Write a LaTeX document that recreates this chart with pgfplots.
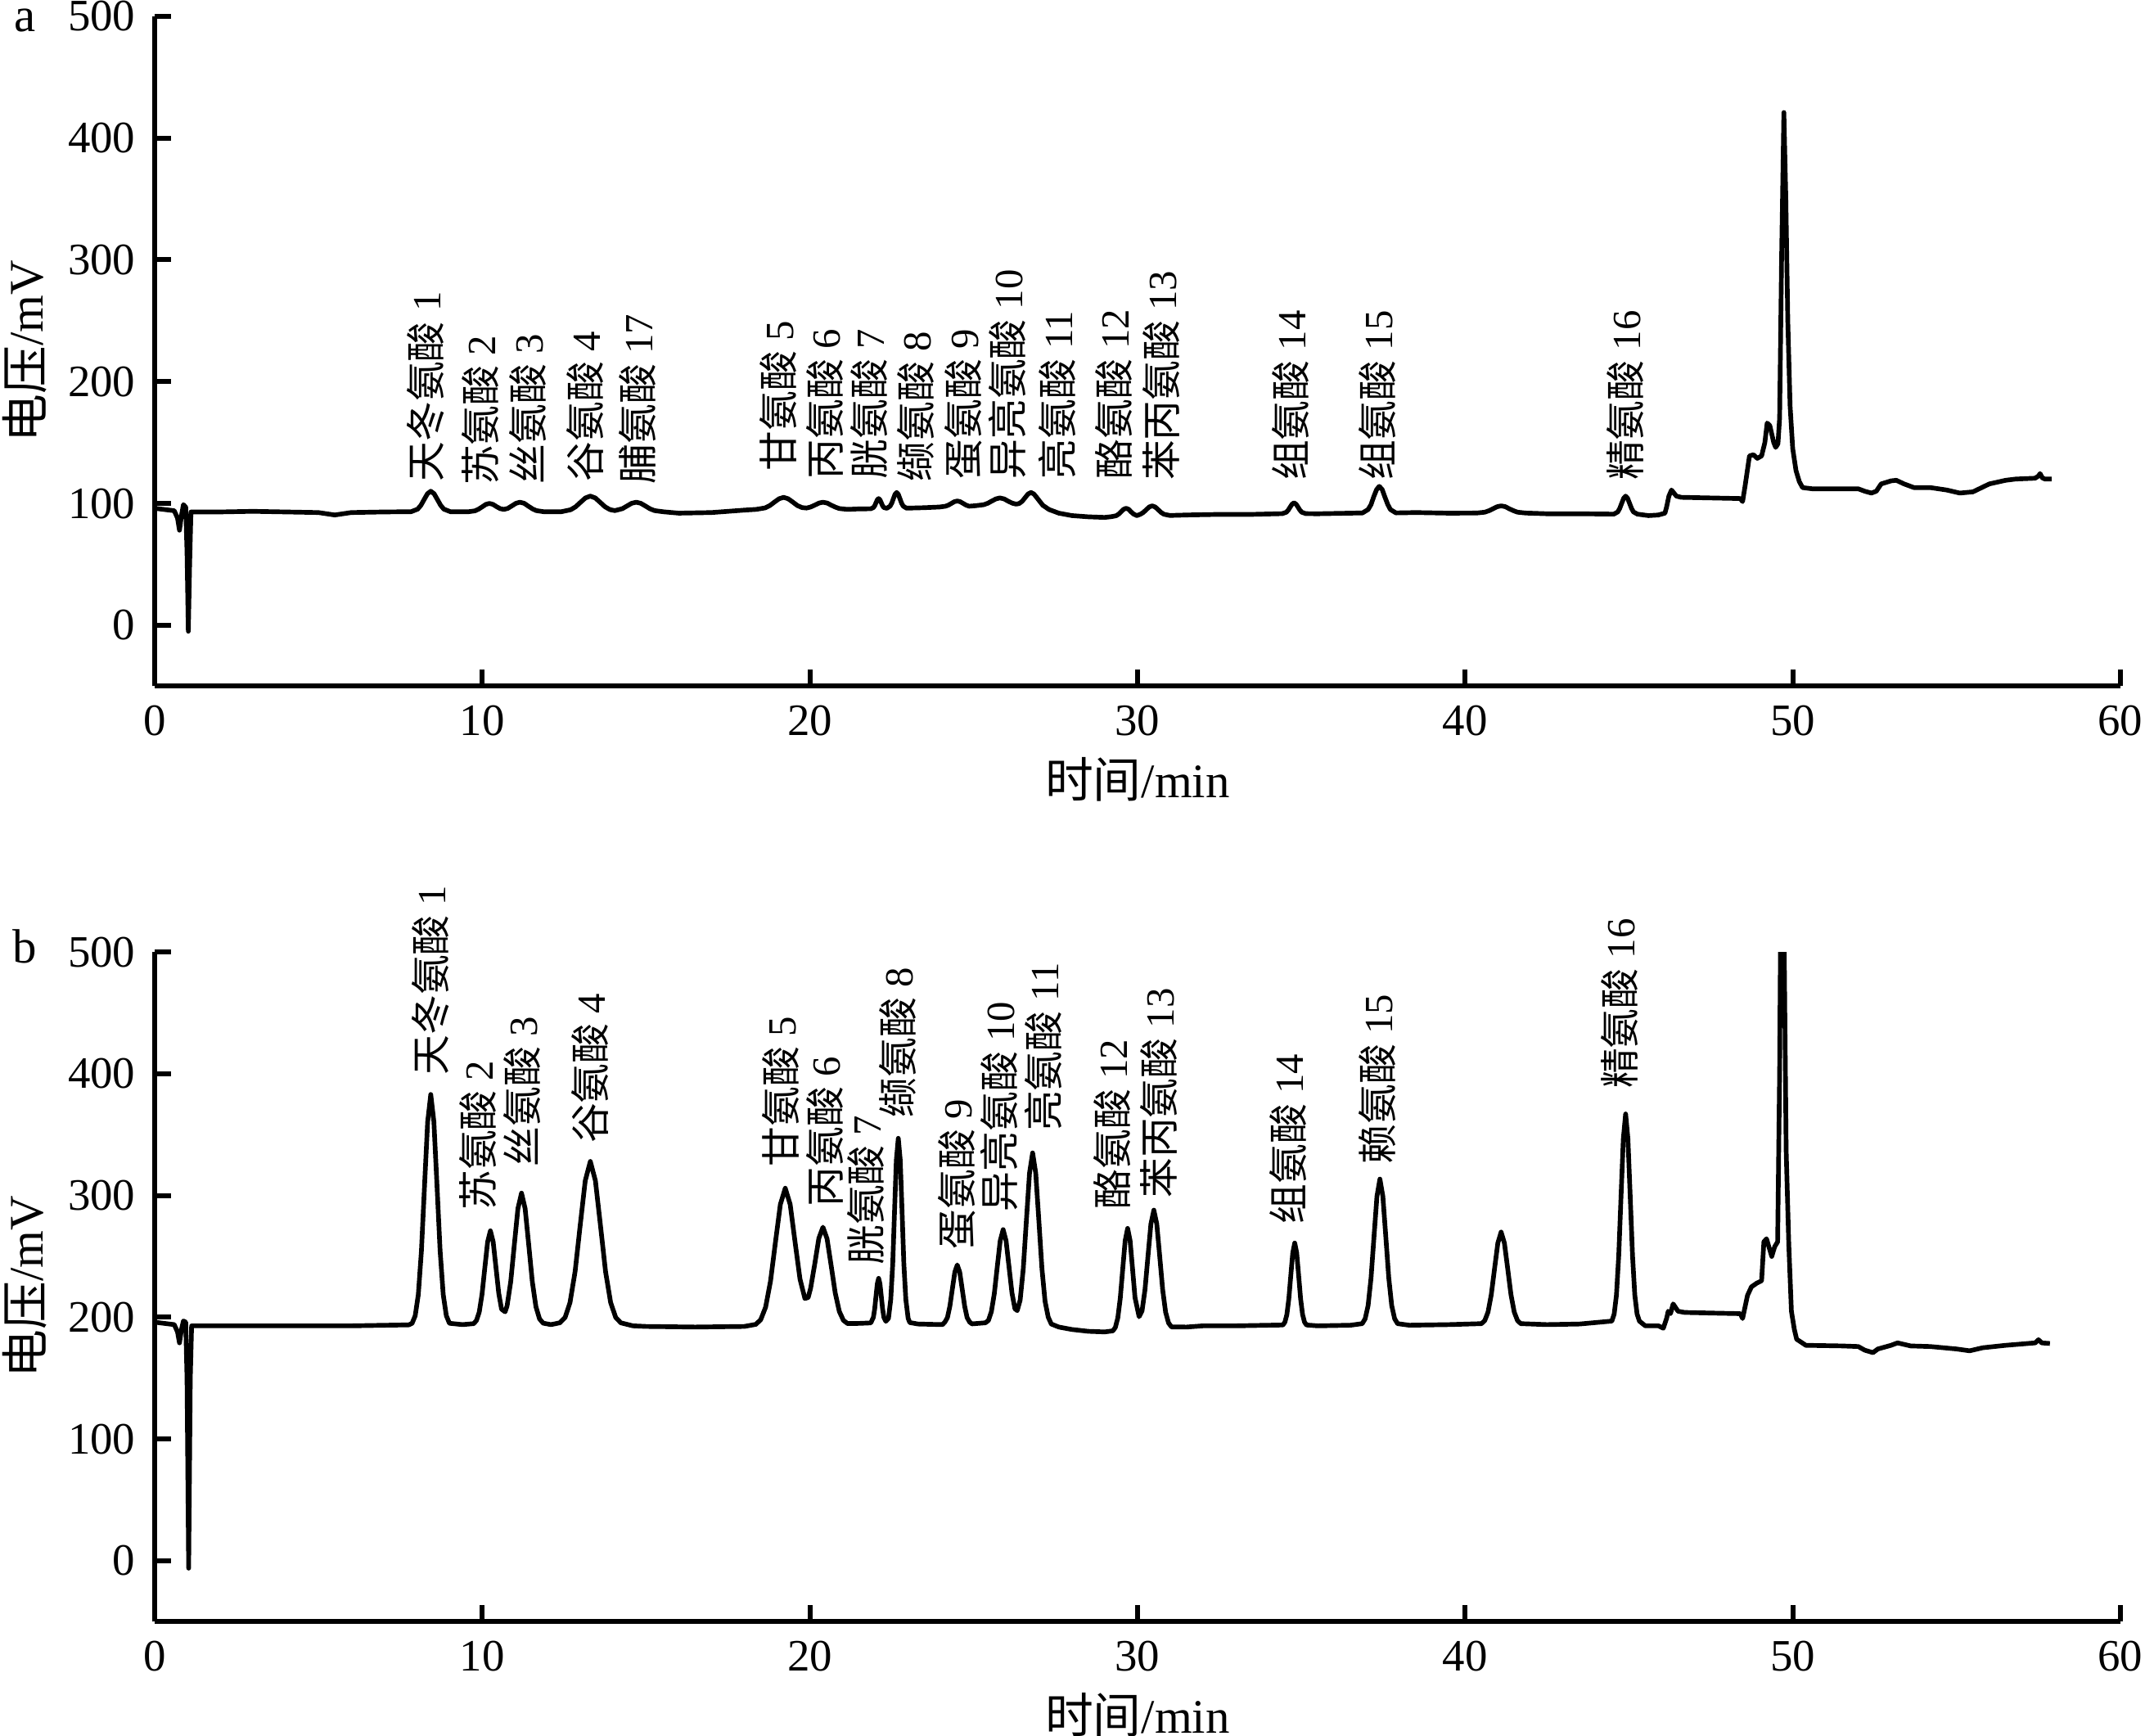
\documentclass[border=0pt]{standalone}
\usepackage{fontspec}
\setmainfont{Liberation Serif}
\newfontfamily\cjk{Noto Sans CJK SC}
\usepackage{pgfplots}
\pgfplotsset{compat=1.18}
\begin{document}
\begin{tikzpicture}[lab/.style={rotate=90,anchor=west,inner sep=0pt,font=\fontsize{7.3}{8}\selectfont\rmfamily}]
\pgfplotsset{chrom/.style={
 width=359.25pt, height=122.4pt, scale only axis,
 xmin=0,xmax=60,ymin=-50,ymax=500,
 axis x line*=bottom, axis y line*=left,
 axis line style={line width=0.9pt,-},
 tick style={line width=0.9pt,black},
 major tick length=3pt, tick align=inside,
 xtick={0,10,...,60}, ytick={0,100,...,500},
 minor tick num=0,
 /pgf/number format/assume math mode=true,
 tick label style={font=\fontsize{8.2}{9}\selectfont},
 label style={font=\fontsize{8.8}{10}\selectfont},
 xlabel={{\cjk 时间}/min}, ylabel={{\cjk 电压}/mV},
 x label style={at={([yshift=-17.1pt]axis description cs:0.5,0)},anchor=center},
 y label style={at={([xshift=-23.75pt]axis description cs:0,0.5)},anchor=center},
 clip mode=individual,
 anchor=south west,
}}
\begin{axis}[chrom, at={(28.25pt,-125.375pt)}]
\addplot[black, line width=0.85pt, line join=round] coordinates {
(0,96) (0.3,95) (0.6,94) (0.7,88) (0.76,78) (0.82,90) (0.88,99) (0.95,97) (0.99,60) (1.03,-5) (1.07,50) (1.11,93) (2,93) (3,93.5) (4,93) (5,92.5) (5.5,90.5) (6,92.5) (7,93)
(7.83,93.2) (8.03,95.3) (8.13,98.5) (8.23,103.3) (8.33,108) (8.43,110) (8.53,108) (8.63,103.3) (8.73,98.5) (8.83,95.3) (9.03,93.2)
(9.56,93.1) (9.78,93.9) (9.89,95.3) (10.0,97.2) (10.11,99.2) (10.22,100) (10.33,99.2) (10.44,97.3) (10.55,95.7) (10.66,95.1) (10.78,95.9) (10.9,97.9) (11.03,100.1) (11.15,101) (11.28,100.1) (11.4,97.9) (11.53,95.6) (11.65,94.1) (11.9,93.1)
(12.4,93.1) (12.7,94.8) (12.85,97.2) (13.0,100.9) (13.15,104.5) (13.3,106) (13.45,104.5) (13.6,100.9) (13.75,97.2) (13.9,94.9) (14.05,94.1) (14.28,95.7) (14.42,97.9) (14.56,100.1) (14.7,101) (14.84,100.1) (14.98,97.9) (15.12,95.6) (15.26,94.1) (15.54,93.1)
(16,92) (17,92.5) (18,94.5)
(18.36,95.1) (18.64,96.35) (18.78,98.25) (18.92,101.1) (19.06,103.8) (19.2,105) (19.34,103.8) (19.48,101.1) (19.62,98.25) (19.76,96.6) (19.9,96.2) (20.03,97.1) (20.15,98.6) (20.28,100.3) (20.4,101) (20.53,100.3) (20.65,98.6) (20.78,96.95) (20.9,95.8) (21.15,95.1)
(21.5,95.5) (21.86,95.6) (21.94,96.6) (21.98,98.1) (22.02,100.6) (22.06,103) (22.1,104) (22.14,103) (22.18,100.6) (22.22,98.1) (22.26,96.6) (22.35,96) (22.45,97.8) (22.5,100.2) (22.55,103.9) (22.6,107.5) (22.65,109) (22.7,107.5) (22.75,103.9) (22.8,100.2) (22.85,97.8) (22.95,96.1)
(23.5,96.5) (23.96,97.05) (24.14,97.7) (24.23,98.6) (24.32,100) (24.41,101.4) (24.5,102) (24.59,101.4) (24.68,100) (24.77,98.6) (24.86,97.7)
(25.05,98.1) (25.3,98.9) (25.43,100.1) (25.55,101.9) (25.68,103.7) (25.8,104.5) (25.93,103.7) (26.05,101.9) (26.18,100.2) (26.3,99.4) (26.39,99.9) (26.48,101.7) (26.57,104.7) (26.66,107.7) (26.75,109) (26.84,107.7) (26.93,104.7) (27.02,101.6) (27.11,98.5) (27.3,95) (27.6,92) (28,90) (28.5,89) (29.0,88.5)
(29.2,89.1) (29.35,89.9) (29.43,91.3) (29.5,93.2) (29.58,95.2) (29.65,96) (29.73,95.2) (29.8,93.2) (29.88,91.3) (29.98,90) (30.09,91.1) (30.18,92.6) (30.27,94.9) (30.36,97.1) (30.45,98) (30.54,97.1) (30.63,94.9) (30.72,92.6) (30.81,91.1) (30.99,90.1)
(31.5,90.5) (32.5,91) (33.5,91)
(34.42,91.6) (34.54,92.7) (34.6,94.4) (34.66,97) (34.72,99.4) (34.78,100.5) (34.84,99.4) (34.9,97) (34.96,94.4) (35.02,92.7) (35.14,91.6)
(35.5,91.5) (36.5,92)
(36.87,92.2) (37.04,95) (37.13,99.1) (37.21,105.4) (37.3,111.4) (37.38,114) (37.47,111.4) (37.55,105.4) (37.64,99.1) (37.72,95) (37.89,92.2)
(38.5,92.5) (39.5,92)
(40.35,92.1) (40.6,92.8) (40.73,94) (40.85,95.6) (40.98,97.3) (41.1,98) (41.23,97.3) (41.35,95.6) (41.48,94) (41.6,92.8) (41.85,92.1)
(42.5,91.5) (43.5,91.5)
(44.54,91.2) (44.66,93) (44.72,95.9) (44.78,100.1) (44.84,104.2) (44.9,106) (44.96,104.2) (45.02,100.1) (45.08,95.9) (45.14,93) (45.26,91.2)
(45.6,90) (45.9,90.5) (46.1,92) (46.15,97) (46.22,106) (46.3,111) (46.45,106) (46.6,105) (47.5,104.5) (48.4,104) (48.47,101.5) (48.55,115) (48.68,139) (48.8,140) (48.92,137) (49.05,139) (49.15,150) (49.22,166) (49.3,164) (49.42,150) (49.48,146) (49.55,149) (49.6,170) (49.66,300) (49.73,421) (49.79,350) (49.85,250) (49.92,180) (50.0,145) (50.1,127) (50.2,118) (50.3,113) (50.6,112) (51.5,112) (52.0,112) (52.2,110) (52.4,108.5) (52.55,110) (52.7,116) (53.0,118.5) (53.16,119) (53.4,116) (53.7,113) (54.2,113) (54.7,111) (55.1,108.5) (55.5,109.5) (56.0,116) (56.5,119) (56.8,120) (57.4,120.7) (57.5,122.5) (57.55,124.5) (57.62,121) (57.7,120) (57.9,120)
};
\node[lab] at (axis cs:8.27,117) {{\cjk 天冬氨酸} 1};
\node[lab] at (axis cs:9.94,114) {{\cjk 苏氨酸} 2};
\node[lab] at (axis cs:11.38,115) {{\cjk 丝氨酸} 3};
\node[lab] at (axis cs:13.13,117) {{\cjk 谷氨酸} 4};
\node[lab] at (axis cs:14.73,115) {{\cjk 脯氨酸} 17};
\node[lab] at (axis cs:19.03,126) {{\cjk 甘氨酸} 5};
\node[lab] at (axis cs:20.46,119) {{\cjk 丙氨酸} 6};
\node[lab] at (axis cs:21.8,119) {{\cjk 胱氨酸} 7};
\node[lab] at (axis cs:23.24,117) {{\cjk 缬氨酸} 8};
\node[lab] at (axis cs:24.68,119) {{\cjk 蛋氨酸} 9};
\node[lab] at (axis cs:26.04,119) {{\cjk 异亮氨酸} 10};
\node[lab] at (axis cs:27.55,119) {{\cjk 亮氨酸} 11};
\node[lab] at (axis cs:29.28,119) {{\cjk 酪氨酸} 12};
\node[lab] at (axis cs:30.72,118) {{\cjk 苯丙氨酸} 13};
\node[lab] at (axis cs:34.68,118) {{\cjk 组氨酸} 14};
\node[lab] at (axis cs:37.31,118) {{\cjk 组氨酸} 15};
\node[lab] at (axis cs:44.88,118) {{\cjk 精氨酸} 16};
\node[font=\fontsize{8.8}{10}\selectfont,anchor=center,inner sep=0pt] at ([xshift=-23.75pt,yshift=-0.8pt]axis description cs:0,1) {a};
\end{axis}
\begin{axis}[chrom, at={(28.25pt,-296.35pt)}]
\addplot[black, line width=0.85pt, line join=round] coordinates {
(0,196) (0.3,195) (0.6,194) (0.7,188) (0.76,179) (0.82,190) (0.88,197) (0.95,196) (0.99,150) (1.04,-6) (1.09,150) (1.13,193) (2,193) (4,193) (6,193)
(7.76,193.8) (7.86,195.1) (7.955,201.3) (8.05,218.7) (8.145,254.7) (8.24,308.3) (8.335,360.6) (8.43,383) (8.525,360.6) (8.62,308.3) (8.715,254.7) (8.81,218.7) (8.905,201.3) (9.0,195.1) (9.4,194)
(9.74,194.8) (9.825,197.4) (9.91,204.4) (9.995,219) (10.08,240.7) (10.165,261.9) (10.25,271) (10.335,261.9) (10.42,240.9) (10.505,219.7) (10.59,206.7) (10.7,204.5) (10.76,209.5) (10.87,229.2) (10.98,259.5) (11.09,289.3) (11.2,302) (11.31,289.3) (11.42,259.5) (11.53,229.1) (11.64,208.6) (11.75,198.7) (11.86,195.2) (12.1,194)
(12.37,195.5) (12.53,199.9) (12.68,212.1) (12.835,237.5) (12.99,275.3) (13.145,312.2) (13.3,328) (13.455,312.2) (13.61,275.3) (13.765,237.5) (13.92,212.1) (14.075,199.9) (14.23,195.5) (14.6,193)
(15,192.5) (16.5,192) (18,192.5)
(18.35,194.2) (18.5,198) (18.65,208.3) (18.8,229.7) (18.95,261.6) (19.1,292.7) (19.25,306) (19.4,292.7) (19.55,261.6) (19.7,231.3) (19.85,215.4) (19.95,216.3) (20.025,224) (20.15,243.8) (20.275,264.9) (20.4,274) (20.525,264.6) (20.65,242.6) (20.775,220) (20.9,204.8) (21.025,197.5) (21.15,194.9) (21.5,195)
(21.86,195.4) (21.94,200) (21.98,207) (22.02,217.5) (22.06,227.6) (22.1,232) (22.14,227.6) (22.18,217.5) (22.22,207) (22.26,200) (22.32,196.7) (22.4,199.1) (22.47,214.7) (22.53,243.7) (22.585,286.9) (22.64,329) (22.7,347) (22.76,329) (22.815,286.9) (22.87,243.7) (22.93,214.7) (23.0,199.2) (23.05,195.7) (23.3,194.5)
(24.05,194) (24.125,196.2) (24.2,199.8) (24.275,209.2) (24.35,223.3) (24.425,237.1) (24.5,243) (24.575,237.1) (24.65,223.3) (24.725,209.2) (24.8,199.8) (24.875,196.2) (24.95,194.6)
(25.36,195.5) (25.45,197.4) (25.54,204.5) (25.63,219.3) (25.72,241.3) (25.81,262.8) (25.9,272) (25.99,262.8) (26.08,241.3) (26.17,219.9) (26.26,207) (26.33,205.5) (26.42,214.2) (26.515,240) (26.61,279.6) (26.705,318.4) (26.8,335) (26.895,318.4) (26.99,279.6) (27.085,239.8) (27.18,213) (27.275,200.2) (27.37,194.5) (27.6,192) (28,190) (28.5,188.5) (29.0,188)
(29.25,188.9) (29.325,191.7) (29.4,199.5) (29.475,215.6) (29.55,239.6) (29.625,263) (29.7,273) (29.775,263) (29.85,239.8) (29.925,216.2) (30.05,200.5) (30.14,205.3) (30.23,222.7) (30.32,249.9) (30.41,276.6) (30.5,288) (30.59,276.6) (30.68,249.9) (30.77,222.5) (30.86,204.1) (30.95,195.3) (31.04,192.1)
(31.5,192) (32,193) (33,193)
(34.44,193.7) (34.5,196) (34.56,202.2) (34.62,215.1) (34.68,234.3) (34.74,253) (34.8,261) (34.86,253) (34.92,234.3) (34.98,215.1) (35.04,202.2) (35.1,196) (35.16,193.7)
(35.5,193) (36.5,193.5)
(36.86,194.8) (36.95,198.8) (37.04,209.7) (37.13,232.5) (37.22,266.3) (37.31,299.4) (37.4,313.5) (37.49,299.4) (37.58,266.3) (37.67,232.5) (37.76,209.7) (37.85,198.8) (37.94,194.8)
(38.3,193.5) (39.5,194)
(40.5,194.8) (40.6,197.3) (40.7,204.3) (40.8,218.7) (40.9,240.1) (41.0,261) (41.1,270) (41.2,261) (41.3,240.1) (41.4,218.7) (41.5,204.3) (41.6,197.3) (41.7,194.8)
(42.5,194) (43.5,194.5)
(44.48,196.9) (44.55,202.6) (44.62,218.3) (44.69,250.9) (44.76,299.4) (44.83,346.7) (44.9,367) (44.97,346.7) (45.04,299.4) (45.11,250.9) (45.18,218.3) (45.25,202.6) (45.32,196.9)
(45.5,193) (45.9,193) (46.05,191) (46.15,199) (46.2,205) (46.27,203) (46.35,211) (46.5,205) (46.7,204) (47.5,203.5) (48.4,203) (48.47,199) (48.62,218) (48.74,225) (48.9,228) (49.05,230) (49.12,262) (49.2,264.5) (49.36,250) (49.45,258) (49.54,262) (49.6,400) (49.64,560) (49.72,560) (49.77,420) (49.8,337) (49.88,260) (49.96,205) (50.05,190) (50.12,182) (50.4,177) (51.5,176.5) (52.0,176) (52.2,173) (52.45,171) (52.6,174) (53.0,177) (53.2,179) (53.6,176.5) (54.2,176) (55.0,174) (55.4,172.5) (55.8,175) (56.5,177) (57.4,179) (57.5,181.6) (57.6,179) (57.85,178.5)
};
\node[lab] at (axis cs:8.43,398) {{\cjk 天冬氨酸} 1};
\node[lab] at (axis cs:9.87,287) {{\cjk 苏氨酸} 2};
\node[lab] at (axis cs:11.22,323) {{\cjk 丝氨酸} 3};
\node[lab] at (axis cs:13.29,342) {{\cjk 谷氨酸} 4};
\node[lab] at (axis cs:19.1,323) {{\cjk 甘氨酸} 5};
\node[lab] at (axis cs:20.46,290) {{\cjk 丙氨酸} 6};
\node[lab] at (axis cs:21.72,242) {{\cjk 胱氨酸} 7};
\node[lab] at (axis cs:22.68,363) {{\cjk 缬氨酸} 8};
\node[lab] at (axis cs:24.48,255) {{\cjk 蛋氨酸} 9};
\node[lab] at (axis cs:25.78,286) {{\cjk 异亮氨酸} 10};
\node[lab] at (axis cs:27.12,352) {{\cjk 亮氨酸} 11};
\node[lab] at (axis cs:29.22,288) {{\cjk 酪氨酸} 12};
\node[lab] at (axis cs:30.64,297) {{\cjk 苯丙氨酸} 13};
\node[lab] at (axis cs:34.6,276) {{\cjk 组氨酸} 14};
\node[lab] at (axis cs:37.31,325) {{\cjk 赖氨酸} 15};
\node[lab] at (axis cs:44.72,387) {{\cjk 精氨酸} 16};
\node[font=\fontsize{8.8}{10}\selectfont,anchor=center,inner sep=0pt] at ([xshift=-23.75pt,yshift=1pt]axis description cs:0,1) {b};
\end{axis}
\pgfresetboundingbox
\path[use as bounding box] (0,0) rectangle (392pt,-317.2pt);
\end{tikzpicture}
\end{document}
